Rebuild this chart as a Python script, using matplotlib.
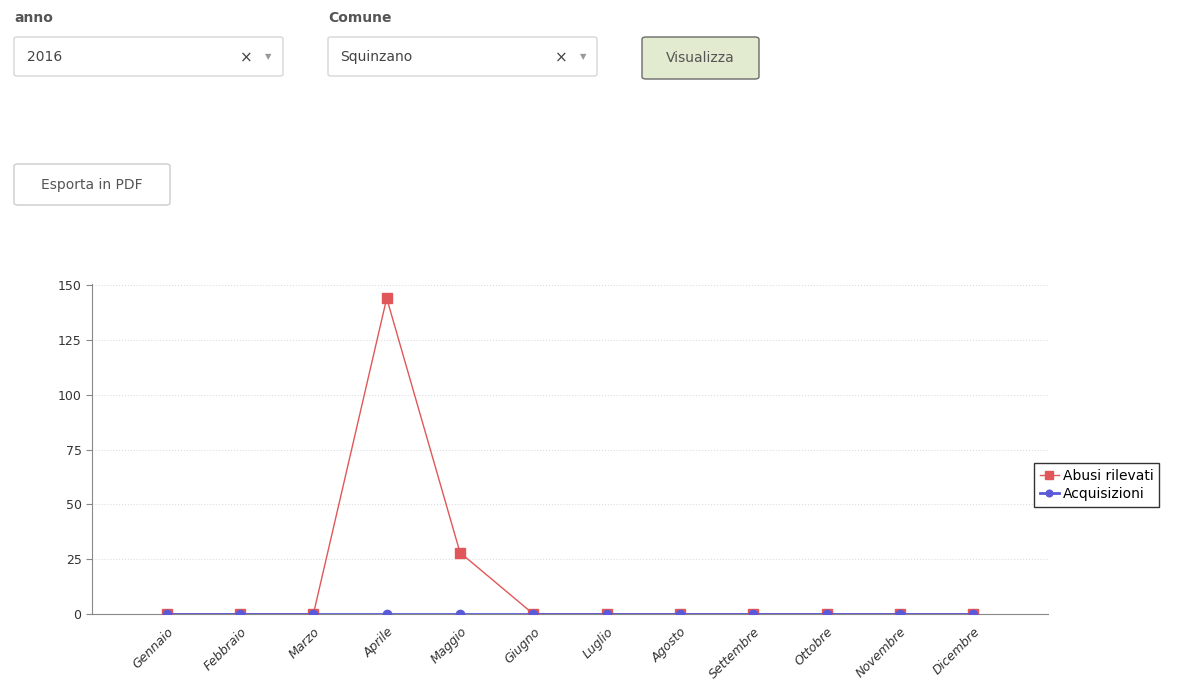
import matplotlib
matplotlib.use('Agg')
import matplotlib.pyplot as plt
from matplotlib.patches import FancyBboxPatch

mesi = ['Gennaio', 'Febbraio', 'Marzo', 'Aprile', 'Maggio', 'Giugno',
        'Luglio', 'Agosto', 'Settembre', 'Ottobre', 'Novembre', 'Dicembre']
abusi = [0, 0, 0, 144, 28, 0, 0, 0, 0, 0, 0, 0]
acquisizioni = [0, 0, 0, 0, 0, 0, 0, 0, 0, 0, 0, 0]
y_ticks = [0, 25, 50, 75, 100, 125, 150]

W, H = 1192, 686
fig = plt.figure(figsize=(W / 100, H / 100), dpi=100)
fig.patch.set_facecolor('white')


def px(x, y):
    # pixel coords (top-left origin) -> figure fraction
    return x / W, 1 - y / H


def box(x0, y0, x1, y1, fc='white', ec='#d6d6d6', r=3):
    fx, fy = px(x0, y1)
    p = FancyBboxPatch((fx, fy), (x1 - x0) / W, (y1 - y0) / H,
                       boxstyle='round,pad=0,rounding_size=%f' % (r / W),
                       transform=fig.transFigure, fc=fc, ec=ec, lw=1)
    fig.patches.append(p)


ui_grey = '#555555'
fig.text(*px(14, 18), 'anno', fontsize=10, fontweight='bold', color=ui_grey, va='center')
fig.text(*px(328, 18), 'Comune', fontsize=10, fontweight='bold', color=ui_grey, va='center')

box(14, 37, 283, 76)
fig.text(*px(27, 57), '2016', fontsize=10, color='#444444', va='center')
fig.text(*px(246, 58), '×', fontsize=11, color='#444444', va='center', ha='center')
fig.text(*px(268, 57), '▼', fontsize=6, color='#999999', va='center', ha='center')

box(328, 37, 597, 76)
fig.text(*px(340, 57), 'Squinzano', fontsize=10, color='#444444', va='center')
fig.text(*px(561, 58), '×', fontsize=11, color='#444444', va='center', ha='center')
fig.text(*px(583, 57), '▼', fontsize=6, color='#999999', va='center', ha='center')

box(642, 37, 759, 79, fc='#e2ebcf', ec='#6b6b6b', r=4)
fig.text(*px(700, 58), 'Visualizza', fontsize=10, color='#555555', va='center', ha='center')

box(14, 164, 170, 205, fc='white', ec='#cccccc', r=4)
fig.text(*px(92, 185), 'Esporta in PDF', fontsize=10, color='#555555', va='center', ha='center')

# chart
ax = fig.add_axes([92 / W, 1 - 614 / H, (1048 - 92) / W, (614 - 284) / H])
x = list(range(len(mesi)))
red = '#e15759'
blue = '#5a5ad8'
ax.plot(x, abusi, color=red, lw=1, marker='s', ms=7, label='Abusi rilevati', zorder=3)
ax.plot(x, acquisizioni, color=blue, lw=2, marker='o', ms=6, label='Acquisizioni', zorder=4)

ax.set_xlim(-1.02, 12.02)
ax.set_ylim(0, 150.5)
ax.set_yticks(y_ticks)
ax.set_xticks(x)
ax.set_xticklabels(mesi, rotation=45, ha='right', rotation_mode='anchor',
                   fontsize=9, style='italic', color='#333333')
ax.tick_params(axis='x', length=0, pad=8)
ax.tick_params(axis='y', length=4, color='#888888', labelsize=9, labelcolor='#333333')
ax.grid(axis='y', color='#dddddd', ls=':', lw=0.8)
ax.set_axisbelow(True)
for s in ['top', 'right']:
    ax.spines[s].set_visible(False)
ax.spines['left'].set_color('#888888')
ax.spines['bottom'].set_color('#888888')

leg = fig.legend(loc='center left', bbox_to_anchor=(1034 / W, 1 - 485 / H),
                 frameon=True, fancybox=False, edgecolor='black',
                 handlelength=1.4, handletextpad=0.3, borderpad=0.4,
                 borderaxespad=0, labelspacing=0.3, markerscale=0.8,
                 prop={'family': ['Liberation Sans Narrow', 'DejaVu Sans'], 'size': 10})
leg.get_frame().set_linewidth(1)

fig.savefig('out.png', dpi=100)
